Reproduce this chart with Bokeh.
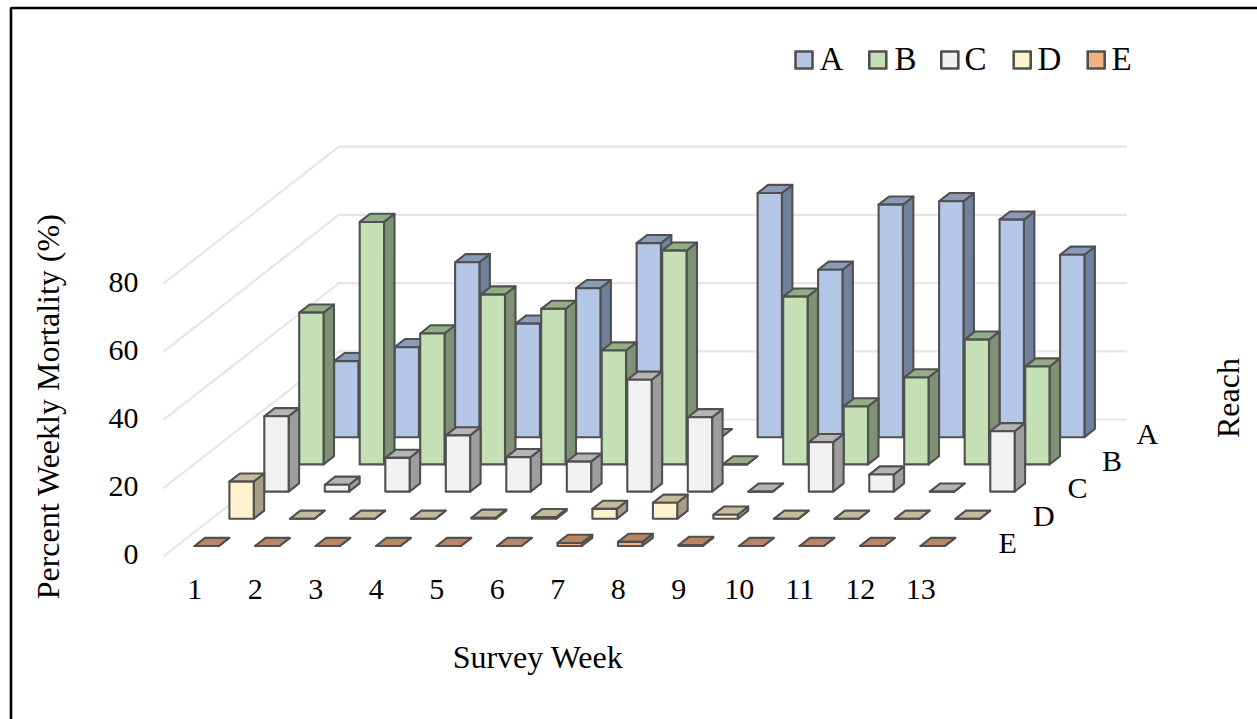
from bokeh.plotting import figure
from bokeh.models import ColumnDataSource
from bokeh.core.properties import value
from bokeh.embed import file_html
from bokeh.resources import INLINE
import math

weeks = [str(i) for i in range(1, 14)]
reaches = ["E", "D", "C", "B", "A"]
value_ticks = [0, 20, 40, 60, 80]

# Percent weekly mortality per survey week, one list per reach
reach_a = [22.3, 26.4, 51.3, 33.3, 43.7, 56.9, 0, 71.6, 49.1, 68.2, 69.2, 63.8, 53.5]
reach_b = [44.5, 71.1, 38.4, 49.8, 45.6, 33.4, 62.7, 0, 49.2, 17.0, 25.5, 36.6, 28.7]
reach_c = [22.1, 2.0, 9.9, 16.5, 10.1, 8.8, 32.8, 21.8, 0, 14.5, 5.0, 0, 17.7]
reach_d = [10.9, 0, 0, 0, 0.3, 0.5, 2.9, 4.7, 1.2, 0, 0, 0, 0]
reach_e = [0, 0, 0, 0, 0, 0, 0.9, 1.2, 0.3, 0, 0, 0, 0]
series = {"E": reach_e, "D": reach_d, "C": reach_c, "B": reach_b, "A": reach_a}

# Face colours per reach: front, side, top
palette = {
    "A": ("#B4C7E7", "#71819C", "#8A9BB8"),
    "B": ("#C5E0B4", "#7F9275", "#93AD84"),
    "C": ("#F2F2F2", "#9D9D9D", "#B5B5B5"),
    "D": ("#FFF2CC", "#A69E85", "#C4BB9C"),
    "E": ("#F4B183", "#9F7355", "#BA8560"),
}
OUTLINE = "#505050"
GRID = "#E6E6E6"
SERIF = value("Liberation Serif")

# Oblique projection of (week slot, reach slot, percent) onto the page
X0, Y0 = 194.0, 545.5
WEEK_DX = 60.5
ROW_DX, ROW_DY = 34.9, -27.2
PCT_DY = -3.41
BAR_W = 0.402
BAR_D = 0.3
FLOOR_W = (-0.295, 12.73)
FLOOR_R = (-0.386, 4.65)


def project(w, r, v=0.0):
    return X0 + WEEK_DX * w + ROW_DX * r, Y0 + ROW_DY * r + PCT_DY * v


p = figure(width=1257, height=719, x_range=(0, 1257), y_range=(719, 0),
           output_backend="svg", toolbar_location=None, min_border=0,
           outline_line_color=None, background_fill_color="white")
p.axis.visible = False
p.grid.visible = False

# Page frame along the top and left edges
p.line([10.5, 10.5, 1257], [719, 7.5, 7.5], line_color="black", line_width=2.6)

# Wall gridlines: side wall then back wall for each tick
for t in value_ticks:
    a = project(FLOOR_W[0], FLOOR_R[0], t)
    b = project(FLOOR_W[0], FLOOR_R[1], t)
    c = project(FLOOR_W[1], FLOOR_R[1], t)
    p.line([a[0], b[0], c[0]], [a[1], b[1], c[1]], line_color=GRID, line_width=2.2)

# Bars, back reach first so nearer bars overlap farther ones
xs, ys, fills = [], [], []
for r, name in reversed(list(enumerate(reaches))):
    front_c, side_c, top_c = palette[name]
    for w, v in enumerate(series[name]):
        fl = project(w, r, 0)
        fr = project(w + BAR_W, r, 0)
        tl = project(w, r, v)
        tr = project(w + BAR_W, r, v)
        br = project(w + BAR_W, r + BAR_D, 0)
        tbr = project(w + BAR_W, r + BAR_D, v)
        tbl = project(w, r + BAR_D, v)
        faces = [
            ([fr, br, tbr, tr], side_c),
            ([tl, tr, tbr, tbl], top_c),
            ([fl, fr, tr, tl], front_c),
        ]
        for pts, col in faces:
            xs.append([q[0] for q in pts])
            ys.append([q[1] for q in pts])
            fills.append(col)

p.patches("xs", "ys", fill_color="fills", line_color=OUTLINE, line_width=2.1,
          line_join="round",
          source=ColumnDataSource(dict(xs=xs, ys=ys, fills=fills)))

# Percent axis labels
p.text([138] * len(value_ticks), [554 - 68 * i for i in range(len(value_ticks))],
       text=[str(t) for t in value_ticks], text_font=SERIF, text_font_size="30px",
       text_align="right", text_baseline="alphabetic", text_color="black")

# Week labels
p.text([project(i, 0)[0] + 0.3 for i in range(len(weeks))], [589] * len(weeks),
       text=weeks, text_font=SERIF, text_font_size="30px",
       text_align="center", text_baseline="alphabetic", text_color="black")

# Reach labels along the right edge of the floor
p.text([998 + 34.5 * r for r in range(len(reaches))],
       [541.7 - 27.2 * r for r in range(len(reaches))],
       text=reaches, text_font=SERIF, text_font_size="30px",
       text_align="left", text_baseline="alphabetic", text_color="black")

# Axis titles
p.text([537.5], [656], text=["Survey Week"], text_font=SERIF, text_font_size="32px",
       text_align="center", text_baseline="alphabetic", text_color="black")
p.text([47], [406], text=["Percent Weekly Mortality (%)"], text_font=SERIF,
       text_font_size="32px", text_align="center", text_baseline="alphabetic",
       text_color="black", angle=math.pi / 2)
p.text([1227], [397.5], text=["Reach"], text_font=SERIF, text_font_size="32px",
       text_align="center", text_baseline="alphabetic", text_color="black",
       angle=math.pi / 2)

# Legend
legend_names = ["A", "B", "C", "D", "E"]
legend_box_x = [803.5, 877.3, 949.3, 1021.7, 1095.7]
legend_text_x = [819, 894, 964, 1037, 1111]
p.rect(legend_box_x, [59.5] * 5, width=17, height=17,
       fill_color=[palette[n][0] for n in legend_names],
       line_color=OUTLINE, line_width=2.6, line_join="round")
p.text(legend_text_x, [58] * 5, text=legend_names, text_font=SERIF,
       text_font_size="33px", text_align="left", text_baseline="alphabetic",
       text_color="black")

open("out.html", "w").write(file_html(p, INLINE))
